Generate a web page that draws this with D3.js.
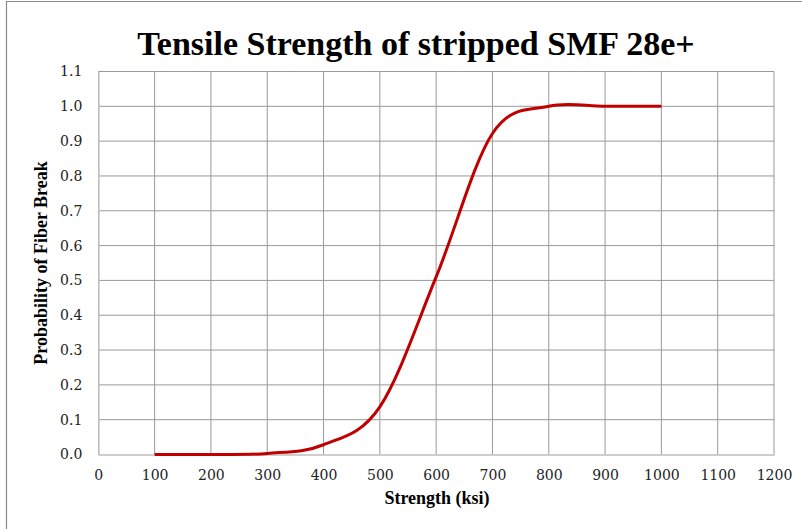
<!DOCTYPE html>
<html lang="en">
<head>
  <meta charset="UTF-8">
  <title>Tensile Strength of stripped SMF 28e+</title>
  <script src="https://d3js.org/d3.v7.min.js"></script>
  <style>
    body { margin: 0; background: #fff; }
  </style>
</head>
<body>
  <svg id="svg1"></svg>
  <script>
    const strength = [100, 200, 300, 400, 500, 600, 700, 800, 900, 1000];
    const probability = [0, 0, 0.003, 0.028, 0.137, 0.51, 0.922, 1.0, 1.0, 1.0];
    const xTicks = d3.range(0, 1201, 100);
    const yTicks = d3.range(0, 1.101, 0.1);

    const width = 802, height = 529;
    const margin = {top: 71.5, right: 28, bottom: 74.5, left: 98.3};
    const serif = '"Liberation Serif", "Times New Roman", serif';
    const tickFont = '"DejaVu Serif", serif';

    const svg = d3.select('#svg1')
      .attr('width', width)
      .attr('height', height);

    // frame (only left and top edges show in the picture)
    svg.append('path')
      .attr('d', `M6.5,${height} V1.5 H${width}`)
      .attr('fill', 'none')
      .attr('stroke', '#8a8a8a')
      .attr('stroke-width', 1.2);

    const xScale = d3.scaleLinear()
      .domain([0, 1200])
      .range([margin.left, width - margin.right]);

    const yScale = d3.scaleLinear()
      .domain([0, 1.1])
      .range([height - margin.bottom, margin.top]);

    // grid
    svg.append('g')
      .selectAll('line')
      .data(xTicks.slice(1))
      .enter()
      .append('line')
      .attr('x1', d => xScale(d)).attr('x2', d => xScale(d))
      .attr('y1', yScale(0)).attr('y2', yScale(1.1))
      .attr('stroke', '#999')
      .attr('stroke-width', 1);

    svg.append('g')
      .selectAll('line')
      .data(yTicks.slice(1))
      .enter()
      .append('line')
      .attr('x1', xScale(0)).attr('x2', xScale(1200))
      .attr('y1', d => yScale(d)).attr('y2', d => yScale(d))
      .attr('stroke', '#999')
      .attr('stroke-width', 1);

    // axes
    const bottomAxis = d3.axisBottom(xScale)
      .tickValues(xTicks)
      .tickSize(0)
      .tickPadding(16)
      .tickFormat(d3.format('d'));
    const gx = svg.append('g')
      .attr('transform', `translate(0, ${yScale(0)})`)
      .call(bottomAxis)
      .attr('font-family', tickFont)
      .attr('font-size', 14);
    gx.select('.domain').attr('stroke', '#bdbdbd').attr('stroke-width', 1.6);
    gx.selectAll('text').attr('fill', '#222');

    const leftAxis = d3.axisLeft(yScale)
      .tickValues(yTicks)
      .tickSize(0)
      .tickPadding(16)
      .tickFormat(d3.format('.1f'));
    const gy = svg.append('g')
      .attr('transform', `translate(${xScale(0)}, 0)`)
      .call(leftAxis)
      .attr('font-family', tickFont)
      .attr('font-size', 14);
    gy.select('.domain').attr('stroke', '#bdbdbd').attr('stroke-width', 1.6);
    gy.selectAll('text').attr('fill', '#222');

    // curve
    const line = d3.line()
      .x((d, i) => xScale(strength[i]))
      .y(d => yScale(d))
      .curve(d3.curveCardinal.tension(0));

    svg.append('path')
      .datum(probability)
      .attr('d', line)
      .attr('fill', 'none')
      .attr('stroke', '#c00000')
      .attr('stroke-width', 3);

    // titles
    svg.append('text')
      .attr('x', 416)
      .attr('y', 55)
      .attr('text-anchor', 'middle')
      .attr('font-family', serif)
      .attr('font-size', 34)
      .attr('font-weight', 'bold')
      .text('Tensile Strength of stripped SMF 28e+');

    svg.append('text')
      .attr('x', 437)
      .attr('y', 504)
      .attr('text-anchor', 'middle')
      .attr('font-family', serif)
      .attr('font-size', 18)
      .attr('font-weight', 'bold')
      .text('Strength (ksi)');

    svg.append('text')
      .attr('transform', `translate(47, ${(yScale(0) + yScale(1.1)) / 2}) rotate(-90)`)
      .attr('text-anchor', 'middle')
      .attr('font-family', serif)
      .attr('font-size', 18)
      .attr('font-weight', 'bold')
      .text('Probability of Fiber Break');
  </script>
</body>
</html>
